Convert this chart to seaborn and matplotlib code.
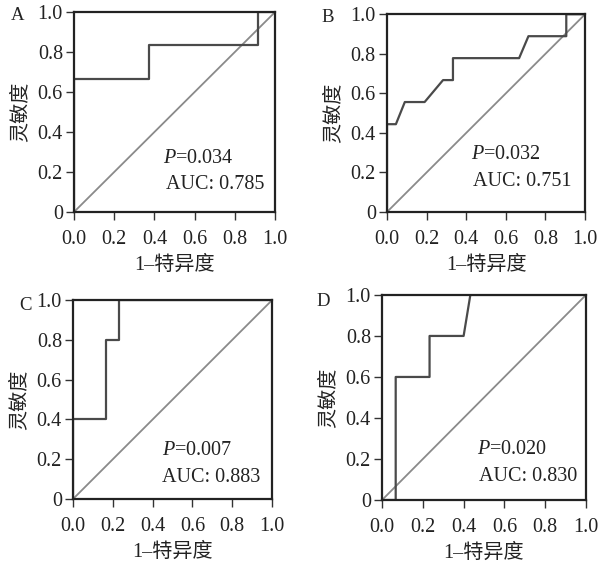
import matplotlib
matplotlib.use("Agg")
import matplotlib.pyplot as plt
import seaborn as sns

sns.set_theme(style="white")
plt.rcParams['font.family'] = ['Liberation Serif', 'Noto Sans CJK SC', 'DejaVu Sans']
plt.rcParams['mathtext.fontset'] = 'custom'
plt.rcParams['mathtext.it'] = 'Liberation Serif:italic'
plt.rcParams['mathtext.rm'] = 'Liberation Serif'

# ---- data ----
panel_labels = ["A", "B", "C", "D"]
fpr_A = [0.0, 0.0, 0.375, 0.375, 0.917, 0.917, 1.0]
tpr_A = [0.0, 0.667, 0.667, 0.833, 0.833, 1.0, 1.0]
fpr_B = [0.0, 0.0, 0.045, 0.09, 0.19, 0.283, 0.333, 0.333, 0.667, 0.714, 0.905, 0.905, 1.0]
tpr_B = [0.0, 0.444, 0.444, 0.556, 0.556, 0.667, 0.667, 0.778, 0.778, 0.889, 0.889, 1.0, 1.0]
fpr_C = [0.0, 0.0, 0.167, 0.167, 0.233, 0.233, 1.0]
tpr_C = [0.0, 0.4, 0.4, 0.8, 0.8, 1.0, 1.0]
fpr_D = [0.0, 0.067, 0.067, 0.233, 0.233, 0.4, 0.433, 1.0]
tpr_D = [0.0, 0.0, 0.6, 0.6, 0.8, 0.8, 1.0, 1.0]
p_values = ["0.034", "0.032", "0.007", "0.020"]
auc_values = ["0.785", "0.751", "0.883", "0.830"]
x_ticks = [0.0, 0.2, 0.4, 0.6, 0.8, 1.0]
x_tick_labels = ["0.0", "0.2", "0.4", "0.6", "0.8", "1.0"]
y_ticks = [0.0, 0.2, 0.4, 0.6, 0.8, 1.0]
y_tick_labels = ["0", "0.2", "0.4", "0.6", "0.8", "1.0"]
x_label = "1–特异度"
y_label = "灵敏度"

curves = [(fpr_A, tpr_A), (fpr_B, tpr_B), (fpr_C, tpr_C), (fpr_D, tpr_D)]

# ---- layout ----
fig = plt.figure(figsize=(6.04, 5.65), dpi=100)
axes_pos = [
    [0.1225, 0.6248, 0.333, 0.354],
    [0.6407, 0.6248, 0.328, 0.350],
    [0.1209, 0.1168, 0.3295, 0.352],
    [0.6325, 0.1150, 0.3377, 0.363],
]
text_pos = [
    ((0.443, 0.265), (0.458, 0.135)),
    ((0.423, 0.293), (0.433, 0.153)),
    ((0.449, 0.246), (0.446, 0.109)),
    ((0.467, 0.247), (0.477, 0.117)),
]
letter_pos = [(18, 16), (328, 18), (26, 305), (323, 302)]

fs = 14.5
for i in range(4):
    ax = fig.add_axes(axes_pos[i])
    sns.lineplot(x=[0, 1], y=[0, 1], ax=ax, color="#8a8a8a", lw=1.3,
                 sort=False, estimator=None)
    fx, ty = curves[i]
    sns.lineplot(x=fx, y=ty, ax=ax, color="#4a4a4a", lw=1.6,
                 sort=False, estimator=None)
    ax.set_xlim(0, 1)
    ax.set_ylim(0, 1)
    ax.set_xticks(x_ticks)
    ax.set_xticklabels(x_tick_labels)
    ax.set_yticks(y_ticks)
    ax.set_yticklabels(y_tick_labels)
    ax.tick_params(axis="both", which="major", direction="out", length=6,
                   width=1.0, color="#333333", labelsize=fs, labelcolor="#222222",
                   left=True, bottom=True)
    ax.tick_params(axis="y", pad=2)
    ax.tick_params(axis="x", pad=7)
    for s in ax.spines.values():
        s.set_visible(True)
        s.set_color("#222222")
        s.set_linewidth(1.6)
    ax.set_xlabel(x_label, fontsize=fs, color="#222222", labelpad=5)
    ax.set_ylabel(y_label, fontsize=fs, color="#222222", labelpad=5)
    (px, py), (ax_, ay) = text_pos[i]
    ax.text(px, py, r"$\mathit{P}$=" + p_values[i], fontsize=fs, color="#222222",
            ha="left", va="center")
    ax.text(ax_, ay, "AUC: " + auc_values[i], fontsize=fs, color="#222222",
            ha="left", va="center")
    lx, ly = letter_pos[i]
    fig.text(lx / 604, 1 - ly / 565, panel_labels[i], fontsize=fs - 1,
             color="#222222", ha="center", va="center")

fig.savefig("out.png", dpi=100)
